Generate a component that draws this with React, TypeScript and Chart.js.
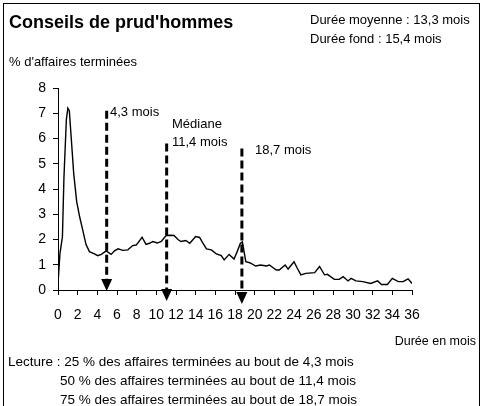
import React, { useEffect, useRef } from "react";
import { Chart, registerables } from "chart.js";

Chart.register(...registerables);

// Durée en mois (x) et % d'affaires terminées (y)
const months = [0, 0.2, 0.45, 0.6, 0.85, 1.0, 1.15, 1.35, 1.6, 1.9, 2.2, 2.5, 2.85, 3.2, 3.7, 4.05, 4.4, 4.9, 5.4, 5.75, 6.1, 6.6, 7.1, 7.6, 7.95, 8.55, 8.95, 9.3, 9.65, 10.1, 10.5, 11.0, 11.4, 11.8, 12.2, 12.5, 13.0, 13.4, 14.0, 14.4, 14.75, 15.1, 15.6, 16.1, 16.6, 16.9, 17.4, 17.9, 18.2, 18.55, 18.75, 19.1, 19.5, 20.1, 20.6, 21.2, 21.5, 22.2, 22.5, 23.1, 23.4, 24.0, 24.35, 24.7, 25.2, 26.1, 26.6, 27.1, 27.4, 28.1, 28.6, 29.0, 29.5, 29.8, 30.3, 31.0, 31.8, 32.5, 32.9, 33.5, 34.0, 34.6, 35.1, 35.6, 36.0];
const values = [0.25, 1.45, 2.1, 4.4, 6.75, 7.2, 7.1, 6.0, 4.6, 3.5, 2.9, 2.4, 1.8, 1.52, 1.43, 1.36, 1.41, 1.55, 1.41, 1.55, 1.63, 1.57, 1.59, 1.76, 1.78, 2.09, 1.81, 1.85, 1.92, 1.86, 1.92, 2.16, 2.17, 2.16, 2.0, 1.92, 1.96, 1.85, 2.12, 2.08, 1.85, 1.63, 1.59, 1.43, 1.36, 1.19, 1.41, 1.23, 1.5, 1.85, 1.9, 1.12, 1.08, 0.95, 0.99, 0.95, 0.99, 0.79, 0.79, 0.99, 0.83, 1.12, 0.85, 0.6, 0.66, 0.69, 0.93, 0.6, 0.62, 0.42, 0.42, 0.53, 0.36, 0.46, 0.36, 0.33, 0.26, 0.36, 0.22, 0.22, 0.46, 0.33, 0.33, 0.44, 0.26];

// Flèches (quartiles)
const arrowX = [4.95, 11.05, 18.7];
const arrowTop = [7.1, 5.8, 5.6];
const arrowTip = [-0.04, -0.44, -0.55];

const title = "Conseils de prud'hommes";
const infoLines = ["Durée moyenne : 13,3 mois", "Durée fond : 15,4 mois"];
const yTitle = "% d'affaires terminées";
const xTitle = "Durée en mois";
const lectureLines = [
  "Lecture : 25 % des affaires terminées au bout de 4,3 mois",
  "50 % des affaires terminées au bout de 11,4 mois",
  "75 % des affaires terminées au bout de 18,7 mois",
];

const FONT = "'Liberation Sans', Arial, sans-serif";

const annotPlugin = {
  id: "annot",
  afterDraw(chart: any) {
    const ctx = chart.ctx as CanvasRenderingContext2D;
    const xs = chart.scales.x;
    const ys = chart.scales.y;
    ctx.save();
    // frame
    ctx.strokeStyle = "#000";
    ctx.lineWidth = 1;
    ctx.strokeRect(3.5, 3.5, 476, 420);

    // arrows
    for (let i = 0; i < arrowX.length; i++) {
      const px = xs.getPixelForValue(arrowX[i]);
      const top = ys.getPixelForValue(arrowTop[i]);
      const tip = ys.getPixelForValue(arrowTip[i]);
      const headH = 12;
      const headW = 11;
      ctx.setLineDash([8, 4]);
      ctx.lineWidth = 3;
      ctx.beginPath();
      ctx.moveTo(px, top);
      ctx.lineTo(px, tip - headH);
      ctx.stroke();
      ctx.setLineDash([]);
      ctx.fillStyle = "#000";
      ctx.beginPath();
      ctx.moveTo(px - headW / 2, tip - headH);
      ctx.lineTo(px + headW / 2, tip - headH);
      ctx.lineTo(px, tip);
      ctx.closePath();
      ctx.fill();
    }

    ctx.fillStyle = "#000";
    ctx.textBaseline = "middle";
    ctx.textAlign = "left";
    ctx.font = `bold 18px ${FONT}`;
    ctx.fillText(title, 9, 23);
    ctx.font = `13px ${FONT}`;
    ctx.fillText(infoLines[0], 310, 20);
    ctx.fillText(infoLines[1], 310, 39);
    ctx.fillText(yTitle, 9, 62);

    ctx.fillText("4,3 mois", 110, 112);
    ctx.fillText("Médiane", 172, 124);
    ctx.fillText("11,4 mois", 172, 142);
    ctx.fillText("18,7 mois", 255, 150);

    ctx.textAlign = "right";
    ctx.font = `12.5px ${FONT}`;
    ctx.fillText(xTitle, 476, 342);

    ctx.textAlign = "left";
    ctx.font = `13.5px ${FONT}`;
    ctx.fillText(lectureLines[0], 8, 362);
    ctx.fillText(lectureLines[1], 60, 381);
    ctx.fillText(lectureLines[2], 60, 400);
    ctx.restore();
  },
};

export default function App() {
  const ref = useRef<HTMLCanvasElement | null>(null);
  useEffect(() => {
    document.body.style.margin = "0";
    const canvas = ref.current!;
    const tickFont = { family: FONT, size: 14 };
    const chart = new Chart(canvas, {
      type: "line",
      data: {
        datasets: [
          {
            data: months.map((m, i) => ({ x: m, y: values[i] })),
            borderColor: "#000",
            borderWidth: 1.4,
            pointRadius: 0,
            tension: 0,
            fill: false,
          },
        ],
      },
      options: {
        animation: false,
        responsive: false,
        layout: { padding: { left: 28, right: 75, top: 88, bottom: 66 } },
        plugins: { legend: { display: false }, tooltip: { enabled: false } },
        scales: {
          x: {
            type: "linear",
            min: 0,
            max: 36,
            ticks: { stepSize: 2, font: tickFont, color: "#000", padding: 12, maxRotation: 0, autoSkip: false },
            grid: { drawOnChartArea: false, drawTicks: true, tickLength: 5, color: "#000" },
            border: { color: "#000" },
            afterFit: (s: any) => {
              s.height = 50;
            },
          },
          y: {
            type: "linear",
            min: 0,
            max: 8,
            ticks: { stepSize: 1, font: tickFont, color: "#000", padding: 7 },
            grid: { drawOnChartArea: false, drawTicks: true, tickLength: 5, color: "#000" },
            border: { color: "#000" },
            afterFit: (s: any) => {
              s.width = 30;
            },
          },
        },
      } as any,
      plugins: [annotPlugin],
    });
    return () => chart.destroy();
  }, []);
  return <canvas ref={ref} width={487} height={406} style={{ display: "block" }} />;
}
